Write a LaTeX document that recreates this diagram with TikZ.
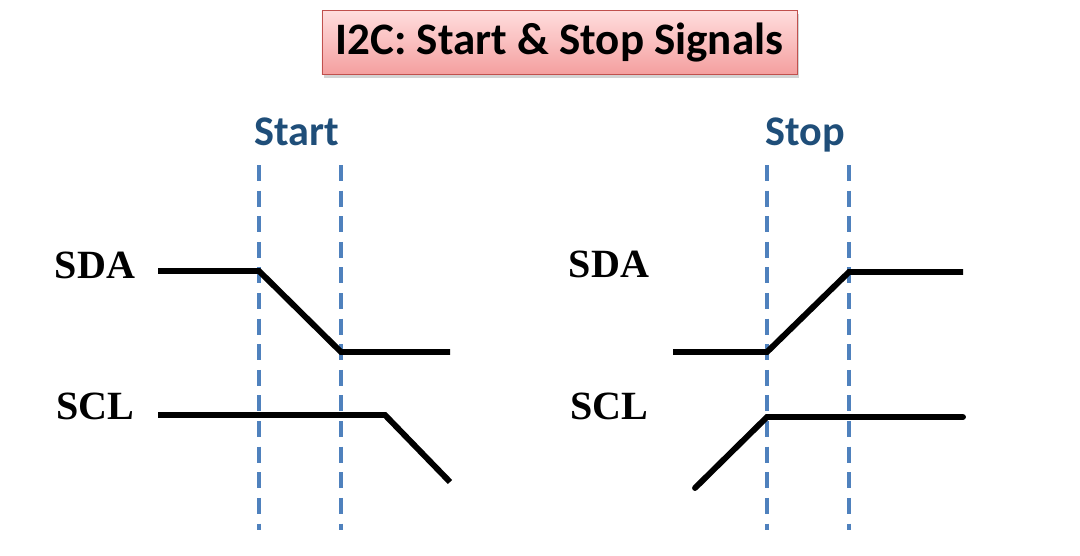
\documentclass[tikz,border=0pt]{standalone}
\usepackage{fontspec}
\setmainfont{Liberation Serif}
\newfontfamily\calib{Carlito}
\usetikzlibrary{shadows}
\definecolor{titlered}{RGB}{192,80,77}
\definecolor{labelblue}{RGB}{31,78,121}
\definecolor{dashblue}{RGB}{79,129,189}
\tikzset{
  wave/.style={line width=4.2pt,line join=miter},
  marker/.style={dashblue,line width=2.8pt,dash pattern=on 0.4cm off 0.24cm},
  sig/.style={anchor=base,font=\fontsize{28.5}{32}\selectfont\bfseries},
  phase/.style={anchor=base,labelblue,font=\calib\fontsize{30}{34}\selectfont\bfseries},
}
\begin{document}
\begin{tikzpicture}[x=0.025cm,y=-0.025cm]
  \useasboundingbox (0,0) rectangle (1080,555);
  \node[draw=titlered,top color={rgb,255:red,255;green,222;blue,222},
        bottom color={rgb,255:red,244;green,158;blue,158},
        drop shadow={shadow xshift=0.06cm,shadow yshift=-0.08cm,opacity=0.35},
        minimum width=11.875cm,minimum height=1.6cm,
        font=\calib\fontsize{32}{38}\selectfont\bfseries] (title) at (559.5,42.5) {I2C: Start \& Stop Signals};
  \node[phase] (start) at (297,145) {Start};
  \node[phase] (stop) at (805,145) {Stop};
  \foreach \x in {259,341,767,849}
    \draw[marker] (\x,165) -- (\x,530);
  % start condition
  \node[sig] (sdaA) at (95,278) {SDA};
  \node[sig] (sclA) at (95,419) {SCL};
  \draw[wave] (158,271) -- (259,271) -- (341,352) -- (450,352);
  \draw[wave] (158,415) -- (385,415) -- (450,482);
  % stop condition
  \node[sig] (sdaB) at (609,277) {SDA};
  \node[sig] (sclB) at (609,419) {SCL};
  \draw[wave] (673,352) -- (767,352) -- (849,272) -- (963,272);
  \draw[wave,line cap=round] (695,488) -- (767,417) -- (963,417);
\end{tikzpicture}
\end{document}
